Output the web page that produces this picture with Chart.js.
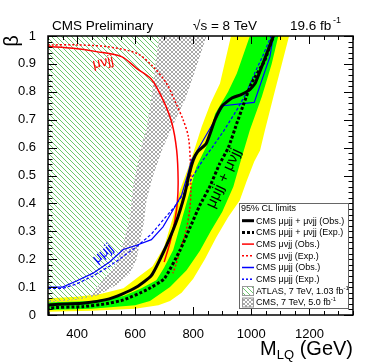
<!DOCTYPE html>
<html>
<head>
<meta charset="utf-8">
<script src="https://cdn.jsdelivr.net/npm/chart.js@4.4.1/dist/chart.umd.min.js"></script>
<style>
  body { margin: 0; background: #fff; }
  canvas { display: block; }
</style>
</head>
<body>
<canvas id="grafica" width="374" height="363"></canvas>
<script>
// tick labels
const xTicks = [400, 600, 800, 1000, 1200];
const yTicks = [0, 0.1, 0.2, 0.3, 0.4, 0.5, 0.6, 0.7, 0.8, 0.9, 1];

// combined mu-mu-jj + mu-nu-jj limits (M_LQ in GeV, beta)
const combObsM = [300, 300, 420, 500, 555, 605, 655, 695, 740, 770, 785, 800, 815, 845, 875, 900, 932, 965, 995, 1013, 1045, 1076];
const combObsB = [0, 0.035, 0.042, 0.055, 0.075, 0.1, 0.14, 0.22, 0.33, 0.43, 0.5, 0.555, 0.585, 0.615, 0.7, 0.75, 0.777, 0.79, 0.808, 0.83, 0.915, 1.0];
const combExpM = [300, 300, 420, 500, 560, 640, 700, 755, 790, 823, 857, 890, 921, 950, 975, 1000, 1045, 1076];
const combExpB = [0, 0.024, 0.03, 0.04, 0.054, 0.09, 0.13, 0.233, 0.316, 0.394, 0.46, 0.54, 0.6, 0.687, 0.76, 0.83, 0.91, 1.0];

// expected +-1 sigma (green) and +-2 sigma (yellow) edges
const band2LoM = [300, 400, 480, 560, 615, 660, 700, 730, 755, 780, 800, 829, 860, 892, 930];
const band2LoB = [0.06, 0.065, 0.075, 0.096, 0.14, 0.175, 0.245, 0.35, 0.45, 0.52, 0.58, 0.675, 0.76, 0.83, 1.0];
const band2HiM = [300, 450, 600, 680, 720, 760, 800, 840, 880, 920, 960, 984, 1010, 1030, 1047, 1076, 1105, 1130];
const band2HiB = [0.012, 0.015, 0.022, 0.035, 0.05, 0.08, 0.13, 0.2, 0.28, 0.35, 0.41, 0.48, 0.55, 0.59, 0.663, 0.782, 0.9, 1.0];
const band1LoM = [300, 450, 560, 620, 673, 700, 731, 760, 790, 810, 850, 875, 920, 950, 995];
const band1LoB = [0.045, 0.05, 0.068, 0.095, 0.125, 0.17, 0.233, 0.34, 0.45, 0.53, 0.615, 0.72, 0.8, 0.866, 1.0];
const band1HiM = [300, 450, 600, 651, 720, 777, 823, 860, 900, 938, 961, 995, 1036, 1070, 1093];
const band1HiB = [0.018, 0.022, 0.035, 0.05, 0.1, 0.16, 0.23, 0.3, 0.37, 0.46, 0.544, 0.663, 0.782, 0.9, 1.0];

// mu-nu-jj
const munuObsM = [300, 386, 467, 553, 605, 656, 696, 726, 743, 748, 745, 735, 720, 700];
const munuObsB = [0.962, 0.956, 0.944, 0.926, 0.884, 0.845, 0.771, 0.69, 0.59, 0.48, 0.4, 0.33, 0.26, 0.19];
const munuExpM = [300, 400, 501, 605, 662, 708, 740, 765, 783, 790, 792, 788, 775, 760, 740, 730];
const munuExpB = [0.968, 0.968, 0.962, 0.938, 0.89, 0.83, 0.76, 0.7, 0.64, 0.55, 0.45, 0.38, 0.3, 0.25, 0.18, 0.15];

// mu-mu-jj
const mumuObsM = [300, 350, 398, 455, 512, 559, 605, 656, 696, 737, 760, 780, 794, 803, 903, 1010, 1064, 1076];
const mumuObsB = [0.1, 0.1, 0.122, 0.15, 0.19, 0.235, 0.25, 0.27, 0.316, 0.388, 0.43, 0.5, 0.556, 0.57, 0.75, 0.762, 0.926, 1.0];
const mumuExpM = [300, 350, 400, 455, 512, 559, 605, 656, 696, 737, 770, 800, 830, 865, 905, 950, 980, 1013, 1040, 1068];
const mumuExpB = [0.095, 0.095, 0.112, 0.14, 0.175, 0.21, 0.245, 0.29, 0.34, 0.39, 0.44, 0.5, 0.55, 0.6, 0.66, 0.735, 0.79, 0.87, 0.93, 1.0];

// previous exclusions
const atlasM = [300, 380, 440, 470, 500, 536, 560, 582, 593, 610, 625, 639, 656, 670, 683];
const atlasB = [0.05, 0.055, 0.065, 0.1, 0.14, 0.185, 0.26, 0.35, 0.46, 0.55, 0.62, 0.663, 0.782, 0.9, 1.0];
const cms7LowM = [300, 400, 470, 540, 582, 605];
const cms7LowB = [0.045, 0.055, 0.07, 0.11, 0.149, 0.2];
const cms7EdgeM = [605, 616, 630, 639, 662, 696, 730, 771, 805, 846];
const cms7EdgeB = [0.2, 0.26, 0.33, 0.41, 0.5, 0.6, 0.68, 0.77, 0.87, 1.0];

const toPts = (ms, bs) => ms.map((m, i) => ({ x: m, y: bs[i] }));
const band = (loM, loB, hiM, hiB) => [...toPts(loM, loB), ...toPts(hiM, hiB).reverse()];

function patron(size, pixels, color) {
    const c = document.createElement('canvas');
    c.width = size; c.height = size;
    const g = c.getContext('2d');
    g.fillStyle = color;
    pixels.forEach(p => g.fillRect(p[0], p[1], 1, 1));
    return g.createPattern(c, 'repeat');
}
const rayado = patron(5, [[0,0],[1,1],[2,2],[3,3],[4,4]], '#6cc86c');
const cuadros = patron(4, [[0,0],[1,1],[2,2],[3,3],[3,0],[2,1],[1,2],[0,3]], '#a8a8a8');

const atlasPoly = [...toPts(atlasM, atlasB), { x: 300, y: 1.0 }];
const cms7Poly = [...toPts(cms7LowM, cms7LowB), ...toPts(cms7EdgeM, cms7EdgeB), ...toPts(atlasM, atlasB).reverse()];

const linea = (data, color, width, dash, order, tension) => ({
    data: data, borderColor: color, borderWidth: width, borderDash: dash,
    showLine: true, pointRadius: 0, fill: false, order: order, tension: tension || 0
});
const area = (data, fillStyle, order) => ({
    data: data, backgroundColor: fillStyle, borderWidth: 0, borderColor: 'rgba(0,0,0,0)',
    showLine: true, pointRadius: 0, fill: 'shape', order: order
});

const FUENTE = "'Liberation Sans', Arial, sans-serif";
Chart.defaults.font.family = FUENTE;
Chart.defaults.color = '#000';

const marco = {
    id: 'marco',
    afterDatasetsDraw(chart) {
        const ctx = chart.ctx, x = chart.scales.x, y = chart.scales.y;
        const etiqueta = (txt, m, b, ang, color, size) => {
            ctx.save();
            ctx.translate(x.getPixelForValue(m), y.getPixelForValue(b));
            ctx.rotate(ang * Math.PI / 180);
            ctx.fillStyle = color;
            ctx.font = size + 'px ' + FUENTE;
            ctx.textAlign = 'center';
            ctx.textBaseline = 'middle';
            ctx.fillText(txt, 0, 0);
            ctx.restore();
        };
        etiqueta('μνjj', 490, 0.905, -12, '#ff0000', 14);
        etiqueta('μμjj', 490, 0.22, -40, '#0000ff', 14);
        etiqueta('μμjj + μνjj', 905, 0.49, -65, '#000', 15);
    },
    afterDraw(chart) {
        const ctx = chart.ctx, x = chart.scales.x, y = chart.scales.y;
        const a = chart.chartArea;
        ctx.save();
        ctx.strokeStyle = '#000';
        ctx.lineWidth = 1;
        ctx.beginPath();
        for (let m = 300; m <= 1350; m += 50) {
            const px = Math.round(x.getPixelForValue(m)) + 0.5;
            const len = (m % 200 === 0) ? 8 : 4;
            ctx.moveTo(px, a.bottom); ctx.lineTo(px, a.bottom - len);
            ctx.moveTo(px, a.top); ctx.lineTo(px, a.top + len);
        }
        for (let k = 0; k <= 50; k++) {
            const py = Math.round(y.getPixelForValue(k / 50)) + 0.5;
            const len = (k % 5 === 0) ? 9 : 4.5;
            ctx.moveTo(a.left, py); ctx.lineTo(a.left + len, py);
            ctx.moveTo(a.right, py); ctx.lineTo(a.right - len, py);
        }
        ctx.stroke();
        ctx.lineWidth = 1.5;
        ctx.strokeRect(a.left, a.top, a.right - a.left, a.bottom - a.top);

        // header
        ctx.fillStyle = '#000';
        ctx.textBaseline = 'alphabetic';
        ctx.font = '13.5px ' + FUENTE;
        ctx.fillText('CMS Preliminary', 52, 30);
        ctx.fillText('√s = 8 TeV', 193, 30);
        ctx.fillText('19.6 fb', 290, 30);
        ctx.font = '9px ' + FUENTE;
        ctx.fillText('-1', 333, 23);

        // axis titles
        ctx.font = '20px ' + FUENTE;
        ctx.textAlign = 'right';
        ctx.fillText('(GeV)', 353, 355);
        const wG = ctx.measureText(' (GeV)').width;
        ctx.font = '13px ' + FUENTE;
        ctx.fillText('LQ', 353 - wG, 359);
        const wL = ctx.measureText('LQ').width;
        ctx.font = '20px ' + FUENTE;
        ctx.fillText('M', 353 - wG - wL, 355);
        ctx.save();
        ctx.translate(18, 41);
        ctx.rotate(-Math.PI / 2);
        ctx.textAlign = 'center';
        ctx.fillText('β', 0, 0);
        ctx.restore();

        // legend
        const L = 239, T = 203, R = 348, B = 308;
        ctx.fillStyle = '#fff';
        ctx.fillRect(L, T, R - L, B - T);
        ctx.strokeStyle = '#666';
        ctx.lineWidth = 1;
        ctx.strokeRect(L + 0.5, T + 0.5, R - L, B - T);
        ctx.textAlign = 'left';
        ctx.textBaseline = 'middle';
        ctx.font = '9px ' + FUENTE;
        ctx.fillStyle = '#000';
        ctx.fillText('95% CL limits', 241, 209);
        const filas = [
            ['CMS μμjj + μνjj (Obs.)', '#000', 3, []],
            ['CMS μμjj + μνjj (Exp.)', '#000', 3, [3, 2]],
            ['CMS μνjj (Obs.)', '#ff0000', 1.5, []],
            ['CMS μνjj (Exp.)', '#ff0000', 1.5, [2, 2]],
            ['CMS μμjj (Obs.)', '#0000ff', 1.5, []],
            ['CMS μμjj (Exp.)', '#0000ff', 1.5, [2, 2]]
        ];
        filas.forEach((f, i) => {
            const yy = 220.7 + i * 11.7;
            ctx.strokeStyle = f[1];
            ctx.lineWidth = f[2];
            ctx.setLineDash(f[3]);
            ctx.beginPath();
            ctx.moveTo(242, yy); ctx.lineTo(254, yy);
            ctx.stroke();
            ctx.setLineDash([]);
            ctx.fillStyle = '#000';
            ctx.fillText(f[0], 256, yy + 0.5);
        });
        [['ATLAS, 7 TeV, 1.03 fb', rayado], ['CMS, 7 TeV, 5.0 fb', cuadros]].forEach((f, i) => {
            const yy = 291 + i * 11.5;
            ctx.fillStyle = f[1];
            ctx.fillRect(242, yy - 4.5, 12, 9);
            ctx.strokeStyle = '#999';
            ctx.lineWidth = 1;
            ctx.strokeRect(242.5, yy - 4.5, 11, 9);
            ctx.fillStyle = '#000';
            ctx.font = '9px ' + FUENTE;
            ctx.fillText(f[0], 256, yy + 0.5);
            const w = ctx.measureText(f[0]).width;
            ctx.font = '6px ' + FUENTE;
            ctx.fillText('-1', 256 + w, yy - 3);
        });
        ctx.restore();
    }
};

new Chart(document.querySelector('#grafica'), {
    type: 'scatter',
    data: {
        datasets: [
            linea(toPts(combObsM, combObsB), '#000', 3, [], 0, 0.15),
            linea(toPts(combExpM, combExpB), '#000', 3, [3, 2], 1, 0.15),
            linea(toPts(mumuObsM, mumuObsB), '#0000ff', 1.2, [], 2),
            linea(toPts(mumuExpM, mumuExpB), '#0000ff', 1.2, [3, 2], 3),
            linea(toPts(munuObsM, munuObsB), '#ff0000', 1.5, [], 4, 0.3),
            linea(toPts(munuExpM, munuExpB), '#ff0000', 1.5, [2, 2], 5, 0.3),
            area(atlasPoly, rayado, 6),
            area(cms7Poly, cuadros, 7),
            area(band(band1LoM, band1LoB, band1HiM, band1HiB), '#00ff00', 8),
            area(band(band2LoM, band2LoB, band2HiM, band2HiB), '#ffff00', 9)
        ]
    },
    options: {
        responsive: false,
        devicePixelRatio: 1,
        animation: false,
        layout: { padding: { top: 36, right: 21, left: 0, bottom: 0 } },
        plugins: { legend: { display: false }, tooltip: { enabled: false } },
        scales: {
            x: {
                type: 'linear', min: 300, max: 1350,
                grid: { display: false }, border: { display: false },
                afterBuildTicks: s => { s.ticks = xTicks.map(v => ({ value: v })); },
                afterFit: s => { s.height = 48; },
                ticks: { font: { size: 13 }, padding: 4, maxRotation: 0, autoSkip: false, callback: v => String(v) }
            },
            y: {
                type: 'linear', min: 0, max: 1,
                grid: { display: false }, border: { display: false },
                afterBuildTicks: s => { s.ticks = yTicks.map(v => ({ value: v })); },
                afterFit: s => { s.width = 48; },
                ticks: { font: { size: 13 }, padding: 4, callback: v => String(v) }
            }
        }
    },
    plugins: [marco]
});
</script>
</body>
</html>
